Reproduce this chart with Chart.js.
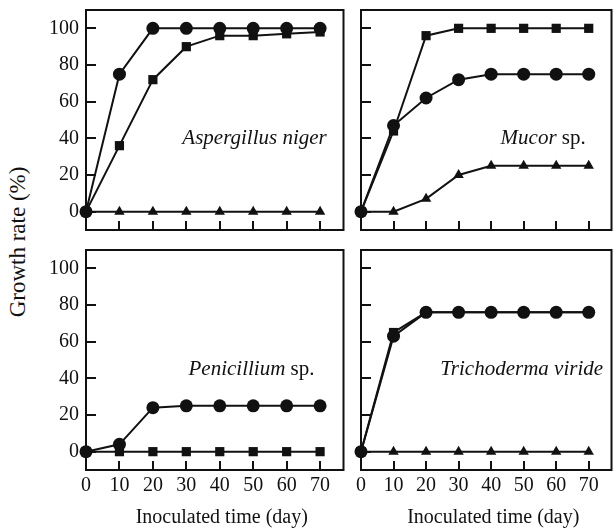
<!DOCTYPE html>
<html lang="en">
<head>
<meta charset="UTF-8">
<title>Growth rate of fungi</title>
<script src="https://cdn.jsdelivr.net/npm/chart.js"></script>
<style>
  body { margin: 0; background: #fff; overflow: hidden; width: 616px; height: 528px; position: relative; }
  canvas { position: absolute; }
  #ytitle {
    position: absolute; left: -82px; top: 229px; width: 200px; height: 26px; line-height: 26px;
    text-align: center; font-family: "Liberation Serif", serif; font-size: 23px; color: #111;
    transform: rotate(-90deg); transform-origin: center;
  }
</style>
</head>
<body>
<div id="ytitle">Growth rate (%)</div>
<canvas id="c1" width="350" height="240" style="left:0;top:0"></canvas>
<canvas id="c2" width="268" height="240" style="left:350px;top:0"></canvas>
<canvas id="c3" width="350" height="288" style="left:0;top:240px"></canvas>
<canvas id="c4" width="268" height="288" style="left:350px;top:240px"></canvas>
<script>
// dados
var dias = [0, 10, 20, 30, 40, 50, 60, 70];
var ticksX = [0, 10, 20, 30, 40, 50, 60, 70];
var ticksY = [0, 20, 40, 60, 80, 100];

var aspCirculo = [0, 75, 100, 100, 100, 100, 100, 100];
var aspQuadrado = [0, 36, 72, 90, 96, 96, 97, 98];
var aspTriangulo = [0, 0, 0, 0, 0, 0, 0, 0];

var mucQuadrado = [0, 44, 96, 100, 100, 100, 100, 100];
var mucCirculo = [0, 47, 62, 72, 75, 75, 75, 75];
var mucTriangulo = [0, 0, 7, 20, 25, 25, 25, 25];

var penCirculo = [0, 4, 24, 25, 25, 25, 25, 25];
var penQuadrado = [0, 0, 0, 0, 0, 0, 0, 0];

var triQuadrado = [0, 65, 76, 76, 76, 76, 76, 76];
var triCirculo = [0, 63, 76, 76, 76, 76, 76, 76];
var triTriangulo = [0, 0, 0, 0, 0, 0, 0, 0];

var fonte = '"Liberation Serif", serif';
var preto = '#111';

function serie(valores, estilo, raio) {
  return {
    data: dias.map(function (d, i) { return { x: d, y: valores[i] }; }),
    borderColor: preto,
    backgroundColor: preto,
    borderWidth: 2,
    pointStyle: estilo,
    pointRadius: raio,
    pointBorderWidth: 0,
    clip: false
  };
}

// sem margem extra dos rotulos, para a area do grafico ficar fixa
function semMargem(s) {
  s.paddingTop = 0; s.paddingBottom = 0; s.paddingLeft = 0; s.paddingRight = 0;
}

// moldura, ticks para dentro, nome da especie e titulo do eixo x
var moldura = {
  id: 'moldura',
  beforeDatasetsDraw: function (chart, args, opts) {
    var ctx = chart.ctx, a = chart.chartArea;
    var sx = chart.scales.x, sy = chart.scales.y;
    ctx.save();
    ctx.strokeStyle = preto;
    ctx.lineWidth = 2;
    ctx.strokeRect(a.left, a.top, a.right - a.left, a.bottom - a.top);
    ctx.beginPath();
    ticksY.forEach(function (v) {
      var y = Math.round(sy.getPixelForValue(v));
      ctx.moveTo(a.left, y); ctx.lineTo(a.left + 10, y);
    });
    ticksX.forEach(function (v) {
      var x = Math.round(sx.getPixelForValue(v));
      ctx.moveTo(x, a.bottom); ctx.lineTo(x, a.bottom - 9);
    });
    ctx.stroke();
    ctx.restore();
  },
  afterDraw: function (chart, args, opts) {
    var ctx = chart.ctx, a = chart.chartArea;
    ctx.save();
    ctx.fillStyle = preto;
    ctx.textBaseline = 'alphabetic';
    ctx.textAlign = 'left';
    var partes = opts.nome;
    var total = 0;
    partes.forEach(function (p) {
      ctx.font = (p[1] ? 'italic ' : '') + '21px ' + fonte;
      total += ctx.measureText(p[0]).width;
    });
    var x = chart.scales.x.getPixelForValue(opts.pos[0]) - total / 2;
    var y = chart.scales.y.getPixelForValue(opts.pos[1]);
    partes.forEach(function (p) {
      ctx.font = (p[1] ? 'italic ' : '') + '21px ' + fonte;
      ctx.fillText(p[0], x, y);
      x += ctx.measureText(p[0]).width;
    });
    if (opts.tituloX) {
      ctx.font = '20px ' + fonte;
      ctx.textAlign = 'center';
      ctx.fillText('Inoculated time (day)', (a.left + a.right) / 2 + 7, 283);
    }
    ctx.restore();
  }
};

function painel(id, series, nome, pos, larguraY, alturaX, comRotulosY, comRotulosX) {
  var ctx = document.getElementById(id).getContext('2d');
  return new Chart(ctx, {
    type: 'line',
    data: { datasets: series },
    plugins: [moldura],
    options: {
      responsive: false,
      animation: false,
      devicePixelRatio: 1,
      layout: { padding: { top: 10, right: 0, left: 0, bottom: 0 } },
      plugins: {
        legend: { display: false },
        tooltip: { enabled: false },
        moldura: { nome: nome, pos: pos, tituloX: comRotulosX }
      },
      scales: {
        x: {
          type: 'linear', min: 0, max: 77,
          grid: { display: false, drawTicks: false },
          border: { display: false },
          afterBuildTicks: function (s) { s.ticks = ticksX.map(function (v) { return { value: v }; }); },
          afterFit: function (s) { s.height = alturaX; semMargem(s); },
          ticks: {
            display: comRotulosX, color: preto, padding: 4, maxRotation: 0, autoSkip: false,
            font: { family: fonte, size: 20 }
          }
        },
        y: {
          min: -10, max: 110,
          grid: { display: false, drawTicks: false },
          border: { display: false },
          afterBuildTicks: function (s) { s.ticks = ticksY.map(function (v) { return { value: v }; }); },
          afterFit: function (s) { s.width = larguraY; semMargem(s); },
          ticks: {
            display: comRotulosY, color: preto, padding: 7,
            font: { family: fonte, size: 20 }
          }
        }
      }
    }
  });
}

painel('c1', [
  serie(aspCirculo, 'circle', 6.5),
  serie(aspQuadrado, 'rect', 6.5),
  serie(aspTriangulo, 'triangle', 6)
], [['Aspergillus niger', true]], [50.4, 37], 86, 10, true, false);

painel('c2', [
  serie(mucQuadrado, 'rect', 6.5),
  serie(mucCirculo, 'circle', 6.5),
  serie(mucTriangulo, 'triangle', 6)
], [['Mucor', true], [' sp.', false]], [56, 37], 11, 10, false, false);

painel('c3', [
  serie(penCirculo, 'circle', 6.5),
  serie(penQuadrado, 'rect', 6.5)
], [['Penicillium', true], [' sp.', false]], [49.5, 42], 86, 58, true, true);

painel('c4', [
  serie(triQuadrado, 'rect', 6.5),
  serie(triCirculo, 'circle', 6.5),
  serie(triTriangulo, 'triangle', 6)
], [['Trichoderma viride', true]], [49.4, 42], 11, 58, false, true);
</script>
</body>
</html>
